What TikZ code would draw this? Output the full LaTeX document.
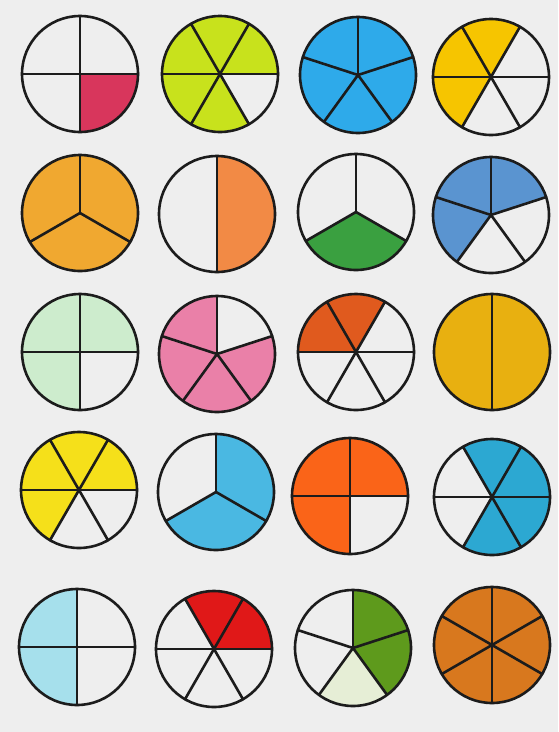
\documentclass[tikz,border=0pt]{standalone}

\definecolor{fundo}{HTML}{EEEEEE}
\definecolor{tinta}{HTML}{1C1C1C}
\definecolor{vermelhoA}{HTML}{D8365C}
\definecolor{limao}{HTML}{C8E21C}
\definecolor{azulA}{HTML}{2EAAEA}
\definecolor{amareloA}{HTML}{F6C500}
\definecolor{laranjaA}{HTML}{F0A830}
\definecolor{laranjaB}{HTML}{F28A45}
\definecolor{verdeA}{HTML}{3AA040}
\definecolor{azulB}{HTML}{5A94D0}
\definecolor{verdeclaro}{HTML}{CDECCD}
\definecolor{rosa}{HTML}{EA80A8}
\definecolor{laranjaC}{HTML}{E05A1E}
\definecolor{ouro}{HTML}{E8B010}
\definecolor{amareloB}{HTML}{F5E01A}
\definecolor{azulC}{HTML}{4AB8E2}
\definecolor{laranjaD}{HTML}{FA6418}
\definecolor{azulD}{HTML}{2CA8D2}
\definecolor{azulclaro}{HTML}{A6E0EC}
\definecolor{vermelhoB}{HTML}{E01818}
\definecolor{verdeB}{HTML}{5E9A1C}
\definecolor{verdepalido}{HTML}{E6EED6}
\definecolor{marrom}{HTML}{D8781E}

\newcommand{\raio}{58}
% fatia: centro, angulo inicial, angulo final, cor
\newcommand{\fatia}[4]{\fill[#4] (#1) -- ++(#2:\raio) arc[start angle=#2, end angle=#3, radius=\raio] -- cycle;}
% disco: centro, angulos das divisoes
\newcommand{\disco}[2]{\draw[contorno] (#1) circle[radius=\raio];
  \foreach \a in {#2} {\draw[contorno] (#1) -- ++(\a:\raio);}}

\begin{document}
\begin{tikzpicture}[x=1pt, y=1pt,
  contorno/.style={draw=tinta, line width=2.6pt, line cap=round, line join=round}]

% Fundo
\fill[fundo] (0,0) rectangle (558,-732);
\useasboundingbox (0,0) rectangle (558,-732);

% CENTROS
\coordinate (c11) at (80,-74);
\coordinate (c12) at (220,-74);
\coordinate (c13) at (358,-75);
\coordinate (c14) at (491,-77);
\coordinate (c21) at (80,-213);
\coordinate (c22) at (217,-214);
\coordinate (c23) at (356,-212);
\coordinate (c24) at (491,-215);
\coordinate (c31) at (80,-352);
\coordinate (c32) at (217,-354);
\coordinate (c33) at (356,-352);
\coordinate (c34) at (492,-352);
\coordinate (c41) at (79,-490);
\coordinate (c42) at (216,-492);
\coordinate (c43) at (350,-496);
\coordinate (c44) at (492,-497);
\coordinate (c51) at (77,-647);
\coordinate (c52) at (214,-649);
\coordinate (c53) at (353,-648);
\coordinate (c54) at (492,-645);

% LINHA 1
\fatia{c11}{270}{360}{vermelhoA}
\disco{c11}{0,90,180,270}

\fatia{c12}{0}{300}{limao}
\disco{c12}{0,60,120,180,240,300}

\fatia{c13}{0}{360}{azulA}
\disco{c13}{90,18,-54,-126,162}

\fatia{c14}{60}{240}{amareloA}
\disco{c14}{0,60,120,180,240,300}

% LINHA 2
\fatia{c21}{0}{360}{laranjaA}
\disco{c21}{90,210,330}

\fatia{c22}{-90}{90}{laranjaB}
\disco{c22}{90,270}

\fatia{c23}{210}{330}{verdeA}
\disco{c23}{90,210,330}

\fatia{c24}{18}{234}{azulB}
\disco{c24}{90,18,-54,-126,162}

% LINHA 3
\fatia{c31}{0}{270}{verdeclaro}
\disco{c31}{0,90,180,270}

\fatia{c32}{90}{378}{rosa}
\disco{c32}{90,18,-54,-126,162}

\fatia{c33}{60}{180}{laranjaC}
\disco{c33}{0,60,120,180,240,300}

\fatia{c34}{0}{360}{ouro}
\disco{c34}{90,270}

% LINHA 4
\fatia{c41}{0}{240}{amareloB}
\disco{c41}{0,60,120,180,240,300}

\fatia{c42}{210}{450}{azulC}
\disco{c42}{90,210,330}

\fatia{c43}{0}{270}{laranjaD}
\disco{c43}{0,90,180,270}

\fatia{c44}{-120}{120}{azulD}
\disco{c44}{0,60,120,180,240,300}

% LINHA 5
\fatia{c51}{90}{270}{azulclaro}
\disco{c51}{0,90,180,270}

\fatia{c52}{0}{120}{vermelhoB}
\disco{c52}{0,60,120,180,240,300}

\fatia{c53}{-54}{90}{verdeB}
\fatia{c53}{-126}{-54}{verdepalido}
\disco{c53}{90,18,-54,-126,162}

\fatia{c54}{0}{360}{marrom}
\disco{c54}{30,90,150,210,270,330}

\end{tikzpicture}
\end{document}
